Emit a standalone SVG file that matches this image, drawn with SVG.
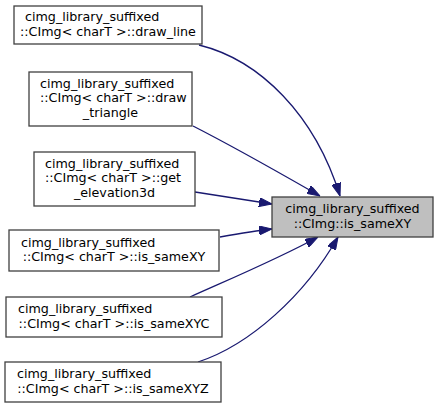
<svg xmlns="http://www.w3.org/2000/svg" width="439" height="409" viewBox="0 0 439 409">
<style>
.node rect{fill:#ffffff;stroke:#404040;stroke-width:1.3}
.node.hl rect{fill:#bfbfbf}
text{font-family:"DejaVu Sans",sans-serif;font-size:12.7px;fill:#000}
.m{text-anchor:middle}
.s{text-anchor:start}
.edges path{fill:none;stroke:#191970;stroke-width:1.3}
</style>
<defs>
<marker id="ah" markerUnits="userSpaceOnUse" markerWidth="13" markerHeight="9" viewBox="0 0 13 9" refX="13" refY="4.5" orient="auto">
<path d="M0,0 L13,4.5 L0,9 z" fill="#191970" stroke="#191970" stroke-width="1"/>
</marker>
</defs>
<rect width="439" height="409" fill="#ffffff"/>
<g class="edges">
<path d="M199,45 C260,60 315,115 340,196" marker-end="url(#ah)"/>
<path d="M193,126 C240,150 285,176 320,196" marker-end="url(#ah)"/>
<path d="M195,192 C220,196 245,200 272,204" marker-end="url(#ah)"/>
<path d="M220,237 C237,234 254,231 272,229" marker-end="url(#ah)"/>
<path d="M190,297 C230,279 280,258 318,237" marker-end="url(#ah)"/>
<path d="M198,362 C250,345 305,295 338,237" marker-end="url(#ah)"/>
</g>
<g id="target" class="node hl">
<rect x="272" y="197" width="161" height="40"/>
<text class="m" x="352.5" y="213">cimg_library_suffixed</text>
<text class="m" x="352.5" y="227.5">::CImg::is_sameXY</text>
</g>
<g id="draw_line" class="node">
<rect x="14" y="6" width="188" height="38"/>
<text class="s" x="25" y="21">cimg_library_suffixed</text>
<text class="m" x="108" y="35.5">::CImg&lt; charT &gt;::draw_line</text>
</g>
<g id="draw_triangle" class="node">
<rect x="29" y="72" width="163" height="54"/>
<text class="s" x="40" y="87.5">cimg_library_suffixed</text>
<text class="s" x="40" y="102">::CImg&lt; charT &gt;::draw</text>
<text class="m" x="110.5" y="116.5">_triangle</text>
</g>
<g id="get_elevation3d" class="node">
<rect x="34" y="152" width="161" height="54"/>
<text class="s" x="45" y="167.5">cimg_library_suffixed</text>
<text class="s" x="45" y="182">::CImg&lt; charT &gt;::get</text>
<text class="m" x="114.5" y="196.5">_elevation3d</text>
</g>
<g id="is_sameXY" class="node">
<rect x="9" y="230" width="210" height="41"/>
<text class="s" x="21" y="246.5">cimg_library_suffixed</text>
<text class="m" x="114" y="261">::CImg&lt; charT &gt;::is_sameXY</text>
</g>
<g id="is_sameXYC" class="node">
<rect x="6" y="297" width="216" height="40"/>
<text class="s" x="18" y="313">cimg_library_suffixed</text>
<text class="m" x="114" y="327.5">::CImg&lt; charT &gt;::is_sameXYC</text>
</g>
<g id="is_sameXYZ" class="node">
<rect x="5" y="362" width="216" height="40"/>
<text class="s" x="17" y="378">cimg_library_suffixed</text>
<text class="m" x="113" y="392.5">::CImg&lt; charT &gt;::is_sameXYZ</text>
</g>
</svg>
